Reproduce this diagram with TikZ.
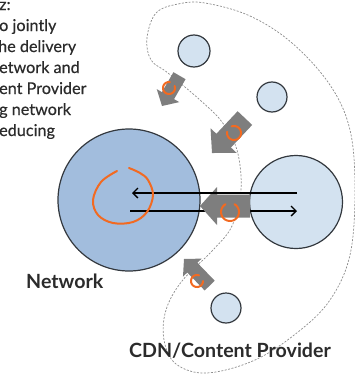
\documentclass[tikz,border=0pt]{standalone}
\usepackage{fontspec}
\setmainfont{Lato}
\newfontfamily\bodyfont{Lato}[FakeBold=0.4]
\usetikzlibrary{arrows.meta}
\definecolor{netblue}{HTML}{A2BDDD}
\definecolor{cdnblue}{HTML}{D3E2F0}
\definecolor{rim}{HTML}{33383E}
\definecolor{arrowgray}{HTML}{7E7E7E}
\definecolor{loop}{HTML}{F26A21}
\definecolor{ink}{HTML}{2B2B2B}
\tikzset{
  netnode/.style={circle, draw=rim, line width=1.2pt, fill=netblue, inner sep=0pt},
  cdnnode/.style={circle, draw=rim, line width=1.2pt, fill=cdnblue, inner sep=0pt},
  outline/.style={draw=black!45, line width=0.7pt, dash pattern=on 2pt off 1.5pt},
  flow/.style={line width=1.3pt, -{Straight Barb[length=5pt,width=10pt,line width=1.3pt]}},
  curl/.style={draw=loop, line width=2pt, line cap=round},
  bodytext/.style={anchor=base west, inner sep=0pt, text=ink, font=\bodyfont\fontsize{16.2}{19}\selectfont},
  label/.style={anchor=base west, inner sep=0pt, text=ink, font=\bfseries\fontsize{19.6}{22}\selectfont},
  pics/blockarrow/.style n args={4}{code={
    \fill[arrowgray] (0,0) -- (-#4,#3) -- (-#4,#2) -- (-#1,#2) -- (-#1,-#2)
      -- (-#4,-#2) -- (-#4,-#3) -- cycle;
  }}
}
\begin{document}
\begin{tikzpicture}[x=1pt, y=-1pt]
\useasboundingbox (0,0) rectangle (355,375);

% text block running in from the left
\node[bodytext] (t0) at (-1,10) {z:};
\node[bodytext] (t1) at (-1,31) {o jointly};
\node[bodytext] (t2) at (-2,52) {he delivery};
\node[bodytext] (t3) at (-1,73) {etwork and};
\node[bodytext] (t4) at (-1,94) {ent Provider};
\node[bodytext] (t5) at (-1,115) {g network};
\node[bodytext] (t6) at (-1,136) {educing};

% dashed boundary of the CDN / content provider domain
\draw[outline] plot[smooth cycle, tension=0.6] coordinates {
  (205,3) (250,16) (292,43) (330,85) (350,130) (355,190) (350,255)
  (330,300) (298,332) (255,360) (207,373) (176,364) (164,340)
  (166,310) (182,281) (212,251) (232,226) (241,190) (237,150)
  (222,122) (200,100) (168,73) (151,60) (147,38) (156,13) (178,4)};

% network and provider nodes
\node[netnode, minimum size=142pt] (net) at (129,200) {};
\node[cdnnode, minimum size=93pt] (cdn) at (296,202) {};
\node[cdnnode, minimum size=32pt] (s1) at (194,51) {};
\node[cdnnode, minimum size=30pt] (s2) at (272,97) {};
\node[cdnnode, minimum size=30pt] (s3) at (226,308) {};

\node[label] (netlbl) at (26,288) {Network};
\node[label] (cdnlbl) at (129,357) {CDN/Content Provider};

% exchange between the two domains
\coordinate (rl) at (297,211);
\coordinate (ll) at (130,211);
\coordinate (ru) at (297,193);
\coordinate (lu) at (132,193);
\draw[flow] (ll) -- (rl);

% gray hand-over arrows
\pic[rotate=240] at (162,106) {blockarrow={35}{7}{13}{12}};
\pic[rotate=226.7] at (212,153) {blockarrow={48}{10}{18}{17}};
\pic[rotate=180] at (200,206) {blockarrow={50}{11.5}{19}{17}};
\pic[rotate=134] at (184,259) {blockarrow={37}{7}{13}{12}};

\draw[flow] (ru) -- (lu);

% orange loops
\draw[curl] plot[smooth, domain=-20:280, samples=24] ({169+6*cos(\x)}, {88+6*sin(\x)});
\draw[curl] plot[smooth, domain=-110:190, samples=24] ({234+7*cos(\x)}, {133+7*sin(\x)});
\draw[curl] plot[smooth, domain=-60:240, samples=24] ({230+9*cos(\x)}, {212+9*sin(\x)});
\draw[curl] plot[smooth, domain=0:290, samples=24] ({197+6*cos(\x)}, {281+6*sin(\x)});

\draw[curl] plot[smooth, tension=0.6] coordinates {
  (117,171) (101,182) (93,200) (98,215) (113,223) (133,222)
  (147,212) (153,195) (148,180) (140,173) (129,168)};
\end{tikzpicture}
\end{document}
